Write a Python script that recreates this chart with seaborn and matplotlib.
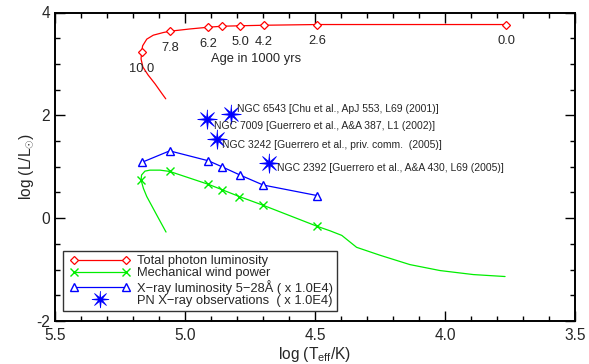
import numpy as np
import pandas as pd
import matplotlib
matplotlib.use("Agg")
import matplotlib.pyplot as plt
import seaborn as sns
from matplotlib.lines import Line2D
from matplotlib.legend_handler import HandlerLine2D
from matplotlib.ticker import MultipleLocator, FormatStrFormatter

# ---------------- data ----------------
# Total photon luminosity track (log Teff, log L), ordered by age from 0
photon_T = [3.765, 4.492, 4.697, 4.788, 4.857, 4.910, 4.981, 5.058, 5.083, 5.122,
            5.147, 5.163, 5.167, 5.169, 5.162, 5.142, 5.115, 5.088, 5.074]
photon_L = [3.766, 3.766, 3.752, 3.742, 3.733, 3.714, 3.680, 3.636, 3.611, 3.559,
            3.482, 3.352, 3.224, 3.095, 2.940, 2.785, 2.611, 2.418, 2.321]
# age markers on the photon track
age_T = [3.765, 4.492, 4.697, 4.788, 4.857, 4.910, 5.058, 5.167]
age_L = [3.766, 3.766, 3.752, 3.742, 3.733, 3.714, 3.636, 3.224]
age_labels = ["0.0", "2.6", "4.2", "5.0", "", "6.2", "7.8", "10.0"]

# Mechanical wind power track
wind_T = [3.769, 3.891, 4.019, 4.135, 4.250, 4.340, 4.397, 4.442, 4.491, 4.699,
          4.791, 4.858, 4.910, 5.059, 5.096, 5.135, 5.154, 5.167, 5.169, 5.160,
          5.147, 5.109, 5.073]
wind_L = [-1.135, -1.097, -1.019, -0.903, -0.721, -0.567, -0.335, -0.246, -0.160, 0.250,
          0.420, 0.555, 0.658, 0.909, 0.934, 0.934, 0.915, 0.840, 0.741, 0.580,
          0.420, 0.064, -0.270]
wind_mk_T = [4.491, 4.699, 4.791, 4.858, 4.910, 5.059, 5.169]
wind_mk_L = [-0.160, 0.250, 0.420, 0.555, 0.658, 0.909, 0.741]

# X-ray luminosity 5-28 A (x 1e4)
xray_T = [4.491, 4.699, 4.788, 4.858, 4.910, 5.059, 5.167]
xray_L = [0.439, 0.644, 0.838, 1.000, 1.116, 1.309, 1.083]

# PN X-ray observations (x 1e4)
pn_names = ["NGC 6543 [Chu et al., ApJ 553, L69 (2001)]",
            "NGC 7009 [Guerrero et al., A&A 387, L1 (2002)]",
            "NGC 3242 [Guerrero et al., priv. comm.  (2005)]",
            "NGC 2392 [Guerrero et al., A&A 430, L69 (2005)]"]
pn_T = [4.824, 4.914, 4.878, 4.676]
pn_L = [2.031, 1.921, 1.534, 1.064]

legend_labels = ["Total photon luminosity",
                 "Mechanical wind power",
                 "X\u2212ray luminosity 5\u221228\u00c5 ( x 1.0E4)",
                 "PN X\u2212ray observations  ( x 1.0E4)"]

# ---------------- style ----------------
sns.set_theme(style="ticks")
plt.rcParams["font.family"] = ["Liberation Sans", "DejaVu Sans"]
plt.rcParams["mathtext.fontset"] = "custom"
plt.rcParams["mathtext.rm"] = "Liberation Sans"
plt.rcParams["mathtext.it"] = "Liberation Sans:italic"
plt.rcParams["axes.unicode_minus"] = False

RED, GREEN, BLUE = "#ff0000", "#00ee00", "#0000ff"

# thin-spiked 8-point star marker (asterisk-like)
_ang = np.arange(16) * np.pi / 8 + np.pi / 2
_rad = np.where(np.arange(16) % 2 == 0, 1.0, 0.22)
STAR = list(zip(_rad * np.cos(_ang), _rad * np.sin(_ang)))

fig = plt.figure(figsize=(5.89, 3.64), dpi=100)
ax = fig.add_axes([55 / 589, 1 - 321 / 364, 520 / 589, 308.5 / 364])

df_ph = pd.DataFrame({"T": photon_T, "L": photon_L})
df_wi = pd.DataFrame({"T": wind_T, "L": wind_L})
df_xr = pd.DataFrame({"T": xray_T, "L": xray_L})

sns.lineplot(data=df_ph, x="T", y="L", sort=False, estimator=None, color=RED, lw=0.9, ax=ax)
sns.lineplot(data=df_wi, x="T", y="L", sort=False, estimator=None, color=GREEN, lw=0.9, ax=ax)
sns.lineplot(data=df_xr, x="T", y="L", sort=False, estimator=None, color=BLUE, lw=0.9, ax=ax)

ax.plot(age_T, age_L, ls="none", marker="D", ms=4.2, mfc="white", mec=RED, mew=0.9)
ax.plot(wind_mk_T, wind_mk_L, ls="none", marker="x", ms=6, mec=GREEN, mew=1.0)
ax.plot(xray_T, xray_L, ls="none", marker="^", ms=6, mfc="white", mec=BLUE, mew=1.0)
ax.plot(pn_T, pn_L, ls="none", marker=STAR, ms=14, mfc=BLUE, mec=BLUE, mew=0.6)

# age labels
for t, l, s in zip(age_T, age_L, age_labels):
    if s:
        ax.annotate(s, xy=(t, l), xytext=(0, -16.5), textcoords="offset pixels",
                    ha="center", va="center", fontsize=9.3)
ax.text(4.727, 3.095, "Age in 1000 yrs", ha="center", va="center", fontsize=9.3)

# PN labels
pn_offsets = [(6.5, 5), (7, -6.6), (5, -6), (7.4, -5)]
for t, l, s, (dx, dy) in zip(pn_T, pn_L, pn_names, pn_offsets):
    ax.annotate(s, xy=(t, l), xytext=(dx, dy), textcoords="offset pixels",
                ha="left", va="center", fontsize=7.5)

# axes
ax.set_xlim(5.5, 3.5)
ax.set_ylim(-2, 4)
ax.xaxis.set_major_locator(MultipleLocator(0.5))
ax.xaxis.set_minor_locator(MultipleLocator(0.1))
ax.xaxis.set_major_formatter(FormatStrFormatter("%.1f"))
ax.yaxis.set_major_locator(MultipleLocator(2))
ax.yaxis.set_minor_locator(MultipleLocator(0.5))
ax.tick_params(which="both", direction="in", top=True, right=True, color="black", width=1.0)
ax.tick_params(which="major", length=7)
ax.tick_params(which="minor", length=3.5)
ax.tick_params(axis="x", which="major", labelsize=11.2, pad=5)
ax.tick_params(axis="y", which="major", labelsize=11.2, pad=3.5)
for sp in ax.spines.values():
    sp.set_color("black")
    sp.set_linewidth(1.4)

ax.set_xlabel(r"log (T$_{\rm eff}$/K)", fontsize=11.2)
ax.set_ylabel(r"log (L/L$_{\odot}$)", fontsize=11.2)
ax.xaxis.set_label_coords(0.5, -0.078)
ax.yaxis.set_label_coords(-0.036, 0.5)

# legend
h1 = Line2D([], [], color=RED, lw=0.9, marker="D", ms=4.2, mfc="white", mec=RED, mew=0.9)
h2 = Line2D([], [], color=GREEN, lw=0.9, marker="x", ms=6, mec=GREEN, mew=1.0)
h3 = Line2D([], [], color=BLUE, lw=0.9, marker="^", ms=6, mfc="white", mec=BLUE, mew=1.0)
h4 = Line2D([], [], ls="none", marker=STAR, ms=12, mfc=BLUE, mec=BLUE, mew=0.6)
hm = {h1: HandlerLine2D(numpoints=2, marker_pad=0.56),
      h2: HandlerLine2D(numpoints=2, marker_pad=0.56),
      h3: HandlerLine2D(numpoints=2, marker_pad=0.56),
      h4: HandlerLine2D(numpoints=1)}
leg = ax.legend([h1, h2, h3, h4], legend_labels, handler_map=hm,
                loc="lower left", bbox_to_anchor=((62.7 - 55) / 520, (321 - 310.7) / 308.5),
                borderaxespad=0, fontsize=9.3, frameon=True, fancybox=False,
                handlelength=5.15, handletextpad=0.3, borderpad=0.3, labelspacing=0.02)
leg.get_frame().set_edgecolor("#333333")
leg.get_frame().set_linewidth(1.0)
leg.get_frame().set_alpha(1)

fig.savefig("out.png", dpi=100)
